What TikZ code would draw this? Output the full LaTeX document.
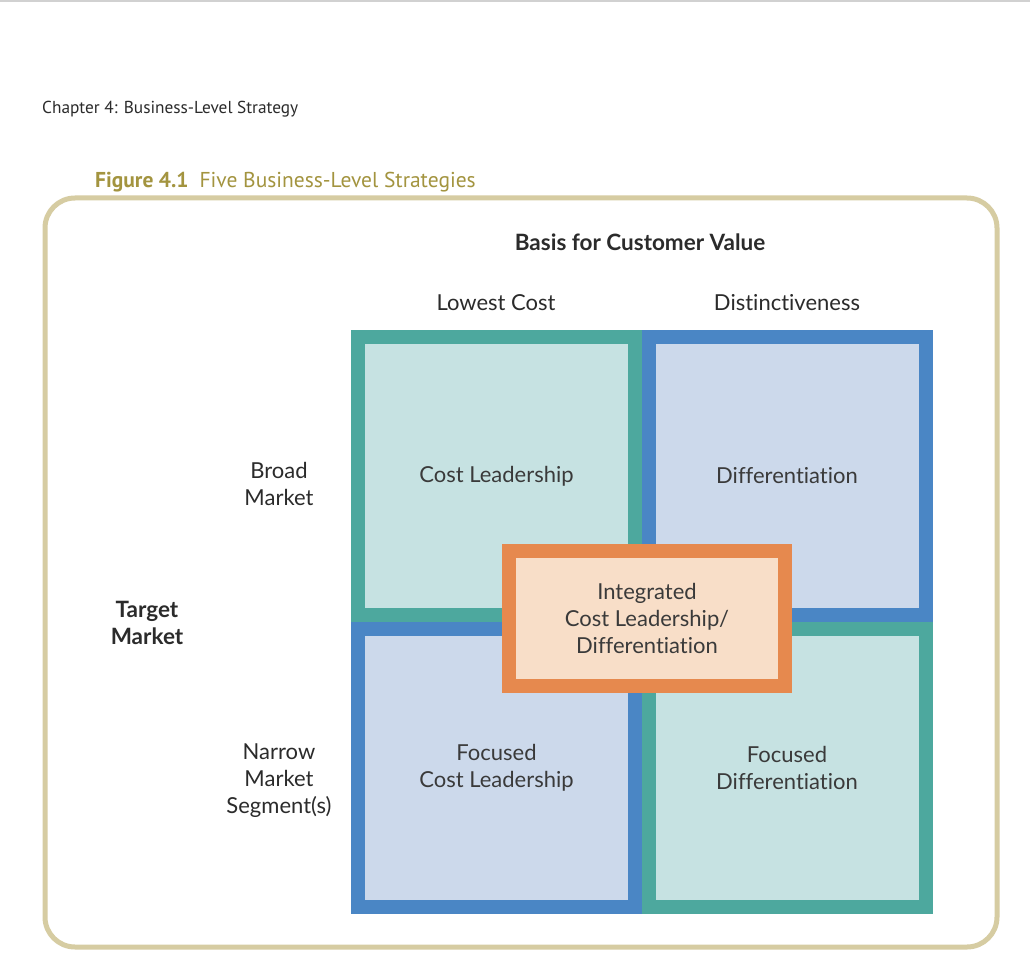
\documentclass[tikz,border=0pt]{standalone}
\usepackage{fontspec}
\setmainfont[Ligatures=NoCommon]{Lato}
\newfontfamily\hdrfont{PT Sans}
\definecolor{tealB}{HTML}{4DA89E}
\definecolor{tealF}{HTML}{C6E2E2}
\definecolor{blueB}{HTML}{4A86C5}
\definecolor{blueF}{HTML}{CCD9EB}
\definecolor{oraB}{HTML}{E6894E}
\definecolor{oraF}{HTML}{F8DEC8}
\definecolor{frameC}{HTML}{D6CCA2}
\definecolor{titleC}{HTML}{A3943F}
\definecolor{txtC}{HTML}{2B2B2B}
\definecolor{boxT}{HTML}{3A3A3A}
\begin{document}
\begin{tikzpicture}[x=1pt,y=-1pt,
  quad/.style={draw, line width=14pt, minimum width=277pt, minimum height=278pt, inner sep=0pt, align=center, text=boxT, font=\fontsize{22}{27}\selectfont},
  tealq/.style={quad, draw=tealB, fill=tealF},
  blueq/.style={quad, draw=blueB, fill=blueF},
  lab/.style={align=center, text=txtC, font=\fontsize{22}{27}\selectfont},
  blab/.style={align=center, text=txtC, font=\fontsize{22.5}{27}\selectfont\bfseries}]
\useasboundingbox (0,0) rectangle (1030,957);
\fill[white] (0,0) rectangle (1030,957);
\fill[black!18] (0,0) rectangle (1030,2.5);
\node[anchor=base west, inner sep=0pt, text=txtC, font=\hdrfont\fontsize{17.3}{20}\selectfont] (chap) at (42,114) {Chapter 4: Business-Level Strategy};
\node[anchor=base west, inner sep=0pt, text=titleC, font=\hdrfont\fontsize{21.5}{24}\selectfont] (fig) at (95,188) {\textbf{Figure 4.1}\hspace{11pt}Five Business-Level Strategies};
\draw[frameC, line width=5pt, rounded corners=30pt] (45,198) rectangle (997,947);
\node[blab] (basis) at (640,242) {Basis for Customer Value};
\node[lab] (low) at (496,303) {Lowest Cost};
\node[lab] (dist) at (787,303) {Distinctiveness};
\node[lab] (broad) at (279,484) {Broad\\Market};
\node[blab] (target) at (147,623) {Target\\Market};
\node[lab] (narrow) at (279,781) {Narrow\\Market\\Segment(s)};
\node[tealq] (cl) at (496.5,476) {Cost Leadership};
\node[blueq] (diff) at (787,476) {Differentiation};
\node[blueq] (fcl) at (496.5,768) {Focused\\Cost Leadership};
\node[tealq] (fd) at (787,768) {Focused\\Differentiation};
\node[draw=oraB, fill=oraF, line width=14pt, minimum width=276pt, minimum height=135pt, inner sep=0pt, align=center, text=boxT, font=\fontsize{22}{27}\selectfont] (icl) at (647,618.5) {Integrated\\Cost Leadership/\\Differentiation};
\end{tikzpicture}
\end{document}
